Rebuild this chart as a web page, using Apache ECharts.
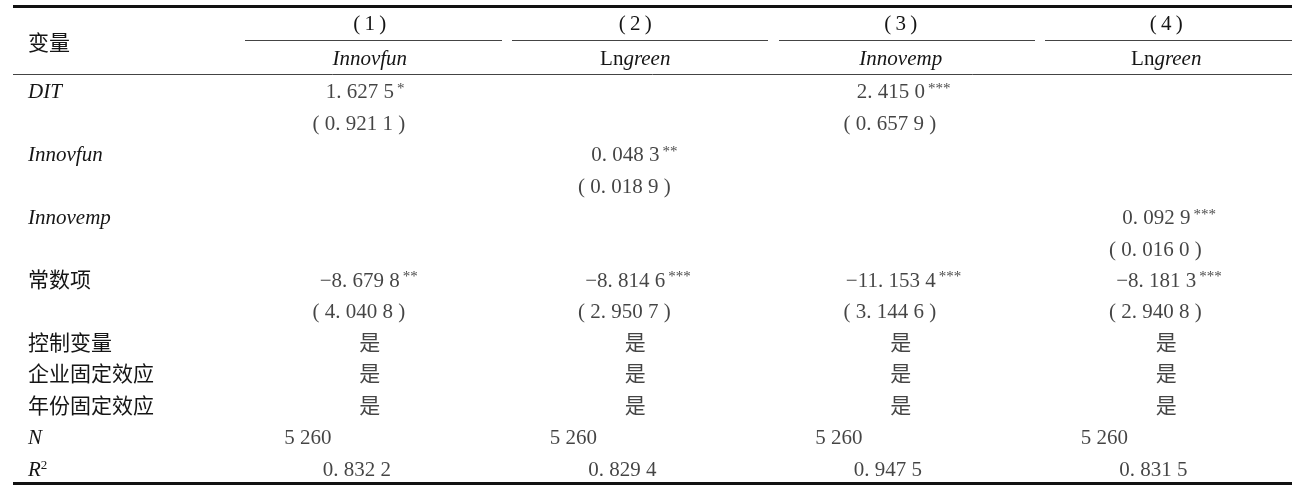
<!DOCTYPE html>
<html><head><meta charset="utf-8">
<script src="https://cdn.jsdelivr.net/npm/echarts@6/dist/echarts.min.js"></script>
<style>html,body{margin:0;padding:0;background:#fff}#c{width:1299px;height:486px}</style>
</head><body><div id="c"></div>
<script>
// ---- data ----
const columns = ['(\u20091\u2009)', '(\u20092\u2009)', '(\u20093\u2009)', '(\u20094\u2009)'];
const depVarPrefix = ['', 'Ln', '', 'Ln'];
const depVarItalic = ['Innovfun', 'green', 'Innovemp', 'green'];
const rowLabels = ['DIT', '', 'Innovfun', '', 'Innovemp', '', '常数项', '', '控制变量', '企业固定效应', '年份固定效应', 'N', 'R2'];
const italicRows = ['DIT', 'Innovfun', 'Innovemp', 'N'];
const coefDIT = [1.6275, null, 2.4150, null];
const seDIT = [0.9211, null, 0.6579, null];
const starsDIT = ['*', '', '***', ''];
const coefInnovfun = [null, 0.0483, null, null];
const seInnovfun = [null, 0.0189, null, null];
const starsInnovfun = ['', '**', '', ''];
const coefInnovemp = [null, null, null, 0.0929];
const seInnovemp = [null, null, null, 0.0160];
const starsInnovemp = ['', '', '', '***'];
const coefConst = [-8.6798, -8.8146, -11.1534, -8.1813];
const seConst = [4.0408, 2.9507, 3.1446, 2.9408];
const starsConst = ['**', '***', '***', '***'];
const controls = ['是', '是', '是', '是'];
const firmFE = ['是', '是', '是', '是'];
const yearFE = ['是', '是', '是', '是'];
const nObs = [5260, 5260, 5260, 5260];
const r2 = [0.8322, 0.8294, 0.9475, 0.8315];

// ---- formatting ----
function fmt(v) {
  const s = Math.abs(v).toFixed(4);
  const [i, d] = s.split('.');
  return (v < 0 ? '\u2212' : '') + i + '. ' + d.slice(0, 3) + ' ' + d.slice(3);
}
function fmtN(n) {
  const s = String(n);
  return s.slice(0, s.length - 3) + ' ' + s.slice(s.length - 3);
}

const FONT = '"Liberation Serif","Times New Roman","Noto Sans CJK SC",serif';
const COLOR = '#151515';
const FS = 21;

const cells = [];
function addCoef(rowIdx, coefs, ses, stars) {
  coefs.forEach((v, c) => {
    if (v === null) return;
    const st = stars[c];
    cells.push({ value: [c, rowIdx], label: { formatter: '{h|' + st + '}{n|' + fmt(v) + '}{s|' + st + '}', offset: [-10, 0] } });
    cells.push({ value: [c, rowIdx + 1], label: { formatter: '{n|( ' + fmt(ses[c]) + ' )}', offset: [-11, 0] } });
  });
}
addCoef(0, coefDIT, seDIT, starsDIT);
addCoef(2, coefInnovfun, seInnovfun, starsInnovfun);
addCoef(4, coefInnovemp, seInnovemp, starsInnovemp);
addCoef(6, coefConst, seConst, starsConst);
[[8, controls], [9, firmFE], [10, yearFE]].forEach(([r, arr]) => {
  arr.forEach((t, c) => cells.push({ value: [c, r], label: { formatter: '{n|' + t + '}', offset: [0, 0] } }));
});
nObs.forEach((n, c) => cells.push({ value: [c, 11], label: { formatter: '{n|' + fmtN(n) + '}', offset: [-62, 0] } }));
r2.forEach((v, c) => cells.push({ value: [c, 12], label: { formatter: '{n|' + fmt(v) + '}', offset: [-13, 0] } }));

const chart = echarts.init(document.getElementById('c'));
const ruleL = 13, ruleR = 1292;
const segs = [[245, 502], [512, 768], [779, 1035], [1045, 1292]];

const graphic = [
  { type: 'line', shape: { x1: ruleL, y1: 6.5, x2: ruleR, y2: 6.5 }, style: { stroke: '#111', lineWidth: 2.8 } },
  { type: 'line', shape: { x1: ruleL, y1: 74.5, x2: ruleR, y2: 74.5 }, style: { stroke: '#444', lineWidth: 1 } },
  { type: 'line', shape: { x1: ruleL, y1: 483.5, x2: ruleR, y2: 483.5 }, style: { stroke: '#111', lineWidth: 2.8 } }
].concat(segs.map(s => ({ type: 'line', shape: { x1: s[0], y1: 40.5, x2: s[1], y2: 40.5 }, style: { stroke: '#444', lineWidth: 1 } })));

const richBase = {
  n: { fontFamily: FONT, fontSize: FS, color: COLOR, lineHeight: 23 },
  h: { fontFamily: FONT, fontSize: 15, color: 'rgba(0,0,0,0)', verticalAlign: 'top', padding: [0, 3, 0, 0] },
  s: { fontFamily: FONT, fontSize: 15, color: COLOR, verticalAlign: 'top', padding: [0, 0, 0, 3] },
  it: { fontFamily: FONT, fontSize: FS, color: COLOR, fontStyle: 'italic', lineHeight: 23 },
  sup: { fontFamily: FONT, fontSize: 13, color: COLOR, verticalAlign: 'top', lineHeight: 13 }
};

chart.setOption({
  animation: false,
  backgroundColor: '#fff',
  title: { text: '变量', left: 28, top: 34, padding: 0, textStyle: { fontFamily: FONT, fontSize: FS, fontWeight: 'normal', color: COLOR } },
  graphic: graphic,
  grid: { left: 237, top: 77, width: 1064, height: 412 },
  xAxis: [
    { type: 'category', data: columns, gridIndex: 0, position: 'bottom', show: false },
    { type: 'category', data: columns, gridIndex: 0, position: 'top', offset: 34,
      axisLine: { show: false }, axisTick: { show: false },
      axisLabel: { margin: 8, fontFamily: FONT, fontSize: FS, color: COLOR } },
    { type: 'category', data: columns, gridIndex: 0, position: 'top', offset: 0,
      axisLine: { show: false }, axisTick: { show: false },
      axisLabel: { margin: 6, color: COLOR, rich: richBase,
        formatter: (v, i) => (depVarPrefix[i] ? '{n|' + depVarPrefix[i] + '}' : '') + '{it|' + depVarItalic[i] + '}' } }
  ],
  yAxis: {
    type: 'category', data: rowLabels.map((_, i) => String(i)), inverse: true,
    axisLine: { show: false }, axisTick: { show: false }, splitLine: { show: false },
    axisLabel: {
      align: 'left', margin: 209, rich: richBase,
      formatter: (v) => {
        const t = rowLabels[+v];
        if (!t) return '';
        if (t === 'R2') return '{it|R}{sup|2}';
        if (italicRows.indexOf(t) >= 0) return '{it|' + t + '}';
        return '{n|' + t + '}';
      }
    }
  },
  series: [{
    type: 'scatter', xAxisIndex: 0, symbolSize: 0, silent: true,
    data: cells,
    label: { show: true, position: 'inside', align: 'center', verticalAlign: 'middle', rich: richBase }
  }]
});
</script>
</body></html>
